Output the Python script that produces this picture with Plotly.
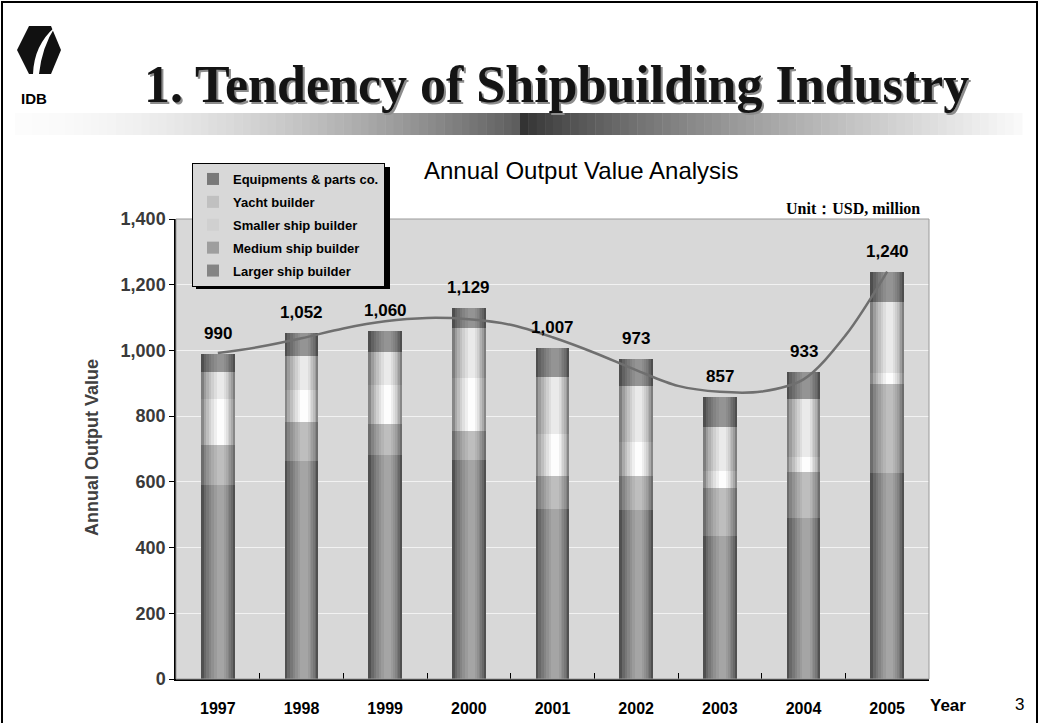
"""
Annual output value of the shipbuilding industry, 1997-2005:
stacked bars by builder type with a polynomial-looking trend line.
"""
import plotly.graph_objects as go

years = ["1997", "1998", "1999", "2000", "2001", "2002", "2003", "2004", "2005"]
larger = [590, 664, 682, 666, 517, 514, 435, 491, 626]
medium = [122, 118, 94, 89, 101, 104, 146, 139, 272]
smaller = [141, 97, 120, 162, 128, 104, 52, 45, 33]
yacht = [81, 104, 99, 152, 173, 170, 134, 178, 217]
equipment = [56, 69, 65, 60, 88, 81, 90, 80, 92]
totals = [990, 1052, 1060, 1129, 1007, 973, 857, 933, 1240]

# trend line at every half category
trend_pos = [0, 0.5, 1, 1.5, 2, 2.5, 3, 3.5, 4, 4.5, 5, 5.5, 6, 6.5, 7, 7.5, 8]
trend_val = [992, 1011, 1037, 1067, 1089, 1099, 1095, 1078, 1040, 993, 940,
             892, 874, 875, 912, 1045, 1240]

# plot area in page pixels
PL, PR, PT, PB = 176, 929, 219, 679
W, H = 1040, 723


def px(x):
    return (x - PL) / (PR - PL)


def py(y):
    return (PB - y) / (PB - PT)


def grey(v):
    v = int(round(max(0, min(255, v))))
    return "rgb(%d,%d,%d)" % (v, v, v)


# name, values, edge shade, centre shade, legend rank
series = [
    ("Larger ship builder", larger, 80, 165, 5),
    ("Medium ship builder", medium, 108, 190, 4),
    ("Smaller ship builder", smaller, 135, 253, 3),
    ("Yacht builder", yacht, 125, 234, 2),
    ("Equipments & parts co.", equipment, 78, 148, 1),
]

fig = go.Figure()

# bars drawn as nested layers to get the cylinder shading
n_layers = 7
base = [0] * len(years)
for name, vals, edge, centre, rank in series:
    for li in range(n_layers):
        t = li / (n_layers - 1)
        w = 0.40 - 0.31 * t
        shift = 0.03 * t
        fig.add_trace(go.Bar(
            x=years, y=vals, base=base, width=w, offset=-w / 2 + shift,
            marker=dict(color=grey(edge + (centre - edge) * t ** 0.7),
                        line=dict(width=0)),
            name=name, legendgroup=name, legendrank=rank,
            showlegend=(li == 3), hoverinfo="skip",
        ))
    base = [b + v for b, v in zip(base, vals)]

fig.add_trace(go.Scatter(
    x=trend_pos, y=trend_val, xaxis="x2", mode="lines",
    line=dict(color="#6f6f6f", width=2.5, shape="spline", smoothing=0.9),
    showlegend=False, hoverinfo="skip",
))

annotations = []
for i, tot in enumerate(totals):
    annotations.append(dict(
        x=i, y=tot, xref="x", yref="y", text=f"{tot:,}",
        xanchor="center", yanchor="bottom", yshift=9,
        font=dict(family="Arial", size=17, color="black", weight="bold"),
    ))

title = "1. Tendency of Shipbuilding Industry"
# page texts
annotations += [
    dict(x=px(142), y=py(85), text=title, xanchor="left",
         font=dict(family="Liberation Serif", size=52, color="#8c8c8c",
                   weight="bold"),
         xshift=2, yshift=-2),
    dict(x=px(142), y=py(85), text=title, xanchor="left",
         font=dict(family="Liberation Serif", size=52, color="#141414",
                   weight="bold")),
    dict(x=px(34), y=py(98), text="IDB",
         font=dict(family="Arial", size=15, color="black", weight="bold")),
    dict(x=px(581), y=py(170), text="Annual Output Value Analysis",
         font=dict(family="Arial", size=24, color="black")),
    dict(x=px(922), y=py(209), text="Unit：USD, million", xanchor="right",
         font=dict(family="Liberation Serif", size=16, color="black",
                   weight="bold")),
    dict(x=px(92), y=py(448), text="Annual Output Value", textangle=-90,
         font=dict(family="Arial", size=18, color="#404040", weight="bold")),
    dict(x=px(948), y=py(705), text="Year",
         font=dict(family="Arial", size=17, color="black", weight="bold")),
    dict(x=px(1020), y=py(704), text="3",
         font=dict(family="Arial", size=17, color="black")),
]
for a in annotations:
    a.setdefault("xref", "paper")
    a.setdefault("yref", "paper")
    a.setdefault("xanchor", "center")
    a.setdefault("yanchor", "middle")
    a.setdefault("showarrow", False)

shapes = []
# gradient band under the title
band_l, band_m, band_r, band_t, band_b = 15, 520, 1022, 113, 135
steps = 60
for i in range(steps):
    x0 = band_l + (band_m - band_l) * i / steps
    x1 = band_l + (band_m - band_l) * (i + 1) / steps + 0.5
    t = (i + 0.5) / steps
    shapes.append(dict(type="rect", xref="paper", yref="paper",
                       x0=px(x0), x1=px(x1), y0=py(band_b), y1=py(band_t),
                       fillcolor=grey(252 - 160 * t ** 1.8), line_width=0,
                       layer="below"))
for i in range(steps):
    x0 = band_m + (band_r - band_m) * i / steps
    x1 = band_m + (band_r - band_m) * (i + 1) / steps + 0.5
    u = (i + 0.5) / steps
    shapes.append(dict(type="rect", xref="paper", yref="paper",
                       x0=px(x0), x1=px(x1), y0=py(band_b), y1=py(band_t),
                       fillcolor=grey(45 + 205 * u ** 0.75), line_width=0,
                       layer="below"))

# logo: black hexagon with a white swoosh
hexagon = [(17, 50), (29, 26), (51, 26), (61, 50), (51, 74), (29, 74)]
path = "M " + " L ".join(f"{px(x)},{py(y)}" for x, y in hexagon) + " Z"
shapes.append(dict(type="path", xref="paper", yref="paper", path=path,
                   fillcolor="#111111", line_width=0))
swoosh = (f"M {px(33)},{py(74)} Q {px(34)},{py(45)} {px(55)},{py(27)} "
          f"Q {px(42)},{py(47)} {px(39)},{py(74)} Z")
shapes.append(dict(type="path", xref="paper", yref="paper", path=swoosh,
                   fillcolor="white", line_width=0))

# slide frame
shapes.append(dict(type="rect", xref="paper", yref="paper",
                   x0=px(2), x1=px(1037), y0=py(740), y1=py(2),
                   line=dict(color="black", width=2)))
# plot area border
shapes.append(dict(type="rect", xref="paper", yref="paper",
                   x0=0, x1=1, y0=0, y1=1,
                   line=dict(color="#9a9a9a", width=1)))
# legend shadow
shapes.append(dict(type="rect", xref="paper", yref="paper",
                   x0=px(196), x1=px(390), y0=py(289), y1=py(167),
                   fillcolor="black", line_width=0))

fig.update_layout(
    width=W, height=H,
    margin=dict(l=PL, r=W - PR, t=PT, b=H - PB, pad=0),
    paper_bgcolor="white",
    plot_bgcolor="#d8d8d8",
    barmode="overlay",
    bargap=0,
    showlegend=True,
    legend=dict(
        x=px(192), y=py(163), xanchor="left", yanchor="top",
        bgcolor="#d8d8d8", bordercolor="black", borderwidth=1,
        traceorder="grouped", tracegroupgap=3,
        font=dict(family="Arial", size=13, color="black", weight="bold"),
        itemwidth=30,
    ),
    xaxis=dict(
        type="category", categoryorder="array", categoryarray=years,
        range=[-0.5, 8.5], showline=True, linecolor="black", linewidth=1.5,
        ticks="inside", tickson="boundaries", ticklen=6, tickcolor="black",
        ticklabelstandoff=14,
        tickfont=dict(family="Arial", size=16, color="black", weight="bold"),
        showgrid=False, automargin=False, fixedrange=True,
    ),
    xaxis2=dict(overlaying="x", range=[-0.5, 8.5], visible=False),
    yaxis=dict(
        range=[0, 1400], dtick=200, tickformat=",", showline=True,
        linecolor="black", linewidth=1.5, ticks="outside", ticklen=5,
        tickcolor="black", gridcolor="#f2f2f2", gridwidth=1,
        tickfont=dict(family="Arial", size=18, color="#3a3a3a",
                      weight="bold"),
        zeroline=False, automargin=False, fixedrange=True,
    ),
    annotations=annotations,
    shapes=shapes,
)

fig.write_html("out.html", config={"displayModeBar": False},
               post_script="document.body.style.margin='0';")
